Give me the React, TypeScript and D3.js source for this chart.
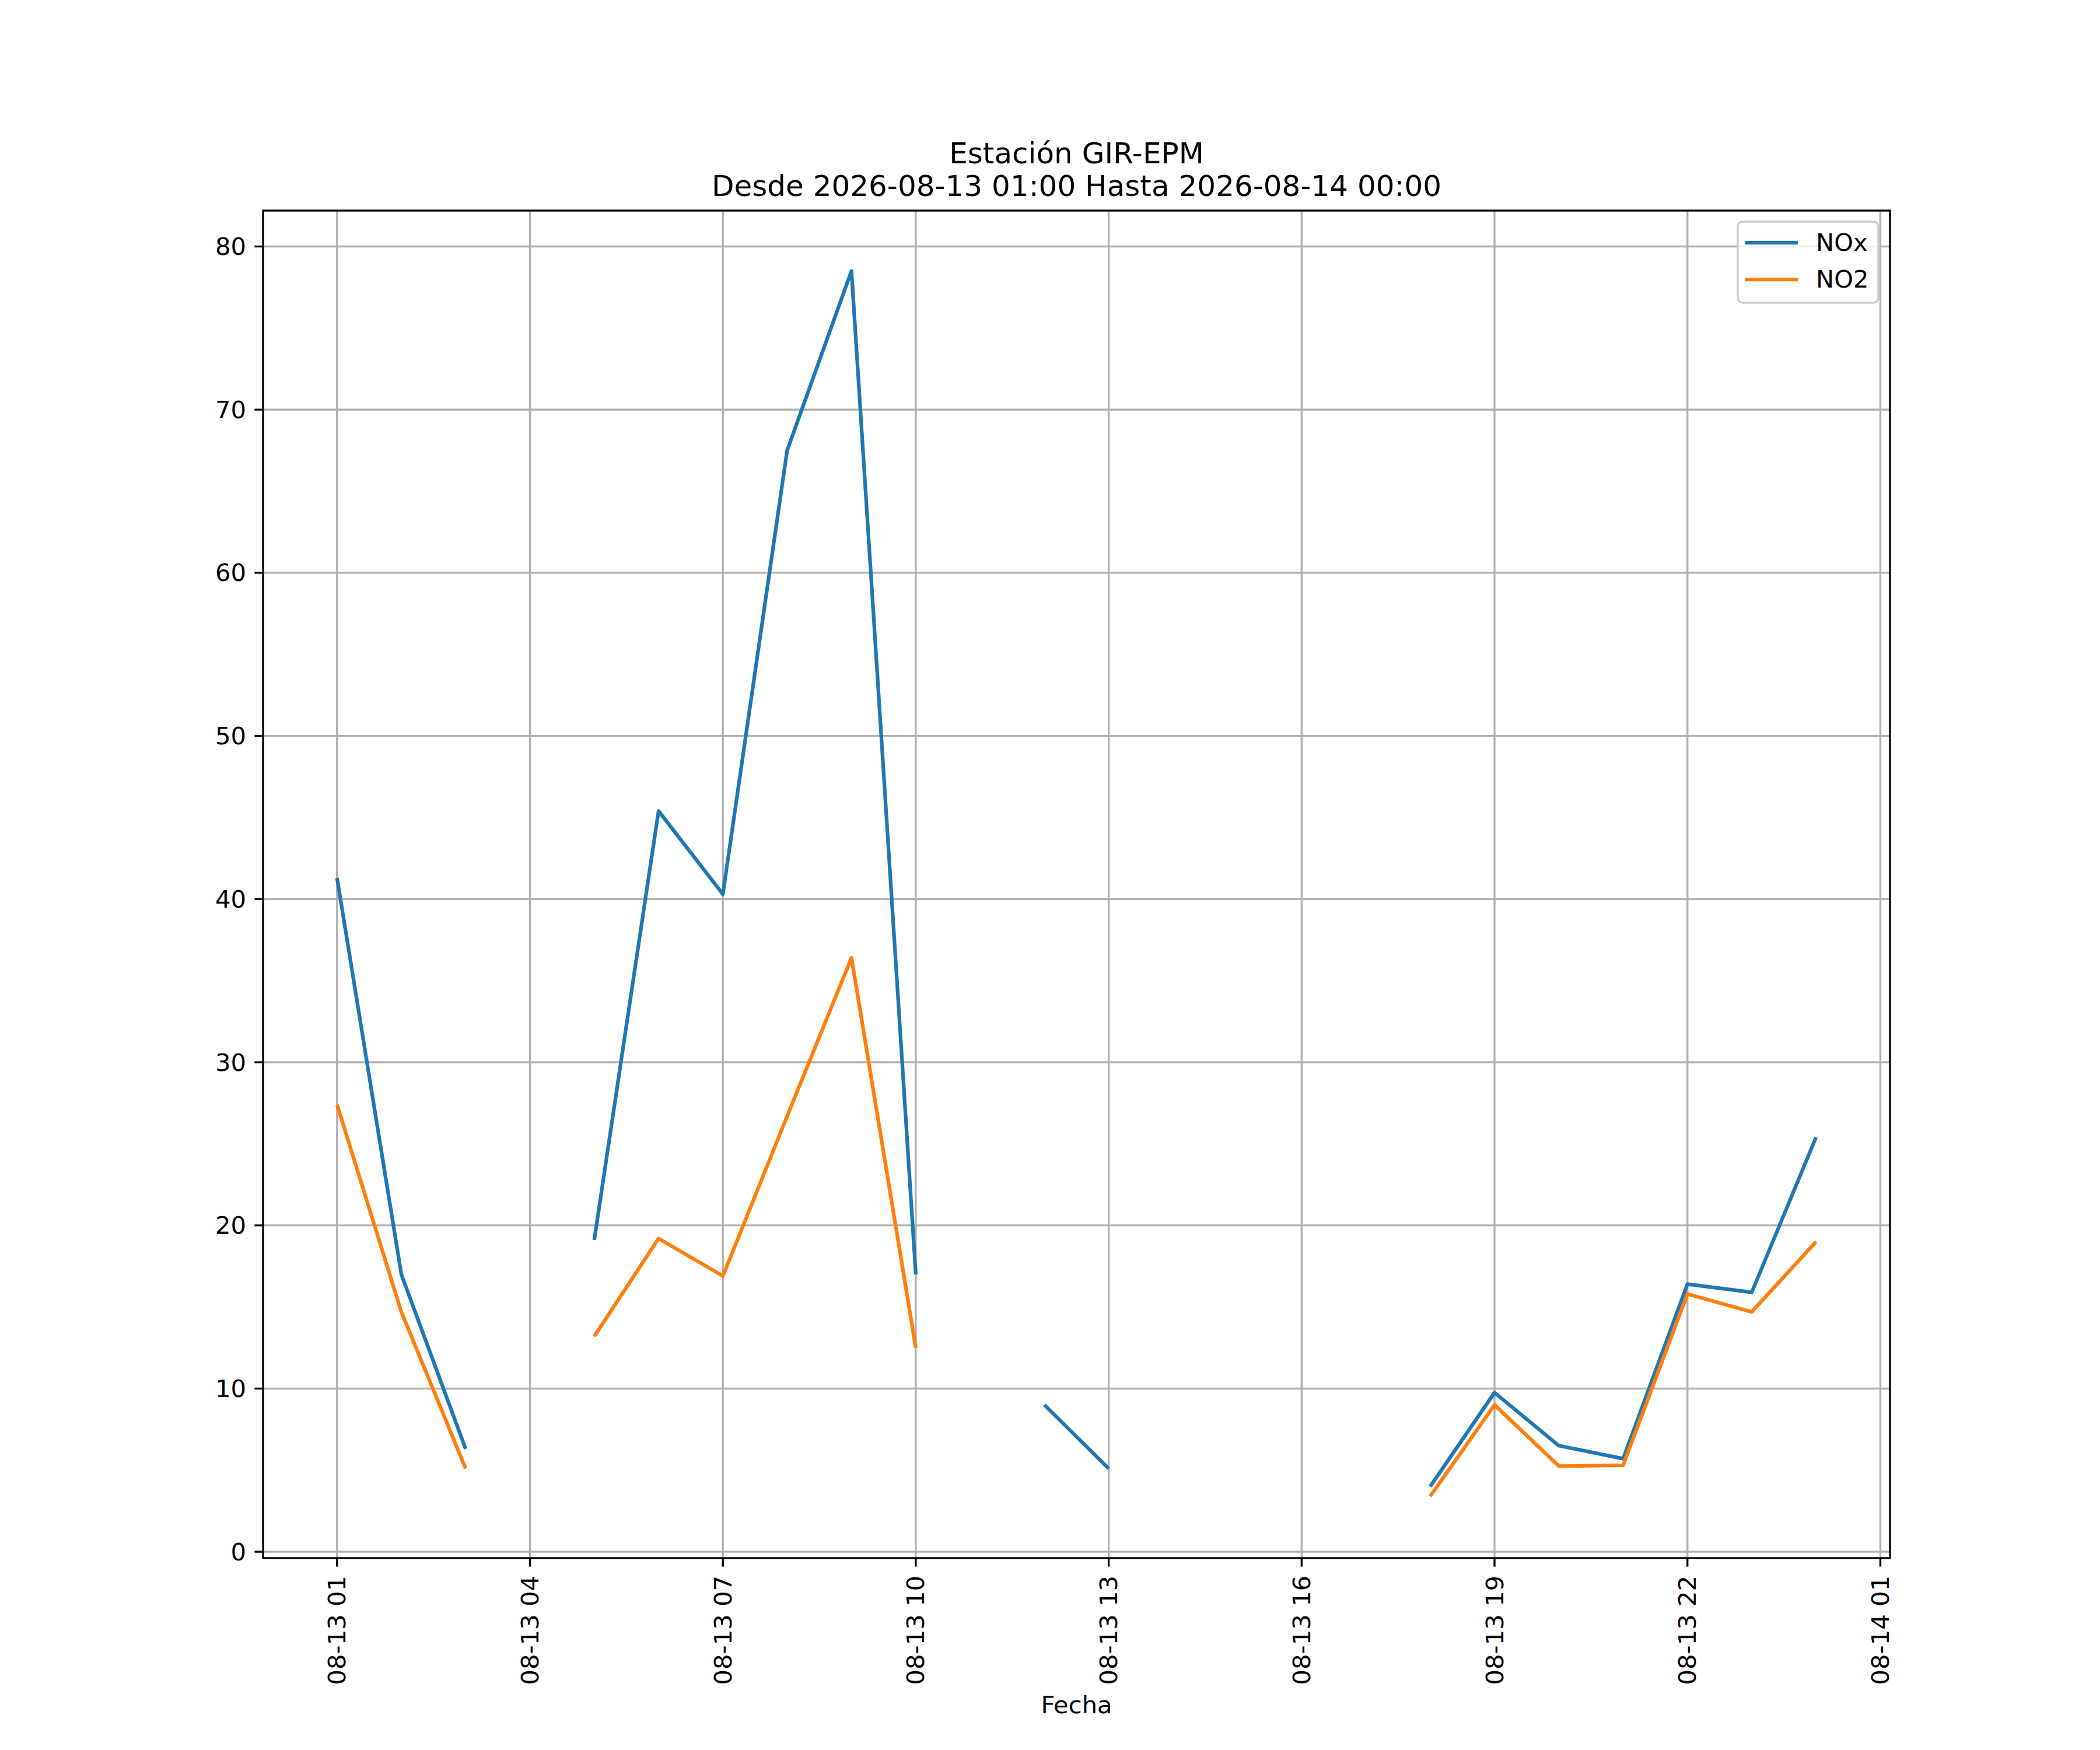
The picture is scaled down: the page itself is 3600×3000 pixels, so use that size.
import * as d3 from 'd3';

// hourly timestamps of the record
const times = [
  '2026-08-13 01:00', '2026-08-13 02:00', '2026-08-13 03:00', '2026-08-13 04:00',
  '2026-08-13 05:00', '2026-08-13 06:00', '2026-08-13 07:00', '2026-08-13 08:00',
  '2026-08-13 09:00', '2026-08-13 10:00', '2026-08-13 11:00', '2026-08-13 12:00',
  '2026-08-13 13:00', '2026-08-13 14:00', '2026-08-13 15:00', '2026-08-13 16:00',
  '2026-08-13 17:00', '2026-08-13 18:00', '2026-08-13 19:00', '2026-08-13 20:00',
  '2026-08-13 21:00', '2026-08-13 22:00', '2026-08-13 23:00', '2026-08-14 00:00',
];

const noxValues: (number | null)[] = [
  41.3, 17.0, 6.3, null, 19.1, 45.4, 40.3, 67.5, 78.5, 17.0, null, 9.0,
  5.1, null, null, null, null, 4.0, 9.75, 6.5, 5.7, 16.4, 15.9, 25.4,
];

const no2Values: (number | null)[] = [
  27.4, 14.7, 5.1, null, 13.2, 19.2, 16.9, 26.7, 36.4, 12.5, null, null,
  null, null, null, null, null, 3.4, 9.0, 5.25, 5.3, 15.8, 14.7, 19.0,
];

const yTicks = [0, 10, 20, 30, 40, 50, 60, 70, 80];
const xTickLabels = [
  '2026-08-13 01:00', '2026-08-13 04:00', '2026-08-13 07:00', '2026-08-13 10:00',
  '2026-08-13 13:00', '2026-08-13 16:00', '2026-08-13 19:00', '2026-08-13 22:00',
  '2026-08-14 01:00',
];

const seriesNames = ['NOx', 'NO2'];
const colors = ['#1f77b4', '#ff7f0e'];

const W = 3600;
const H = 3000;
const left = 451;
const right = 3240;
const top = 361;
const bottom = 2671;
const font = 'DejaVu Sans, sans-serif';
const fs = 41.7;
const HOUR = 3600 * 1000;

export default function App() {
  const parse = d3.utcParse('%Y-%m-%d %H:%M');
  const dates = times.map((t) => parse(t) as Date);
  const t0 = dates[0].getTime();
  const t1 = dates[dates.length - 1].getTime();

  const x = d3
    .scaleUtc()
    .domain([new Date(t0 - 1.15 * HOUR), new Date(t1 + 1.15 * HOUR)])
    .range([left, right]);
  const y = d3.scaleLinear().domain([-0.39, 82.2]).range([bottom, top]);

  const fmt = d3.utcFormat('%m-%d %H');
  const xTicks = xTickLabels.map((t) => parse(t) as Date);

  const line = d3
    .line<[Date, number | null]>()
    .defined((d) => d[1] !== null)
    .x((d) => x(d[0]))
    .y((d) => y(d[1] as number));

  const series = [noxValues, no2Values].map((vals) =>
    dates.map((d, i) => [d, vals[i]] as [Date, number | null])
  );

  const cx = (left + right) / 2;

  return (
    <svg
      width={W}
      height={H}
      style={{ position: 'absolute', left: 0, top: 0, background: '#fff' }}
      fontFamily={font}
    >
      <rect x={0} y={0} width={W} height={H} fill="#fff" />

      {/* grid */}
      {xTicks.map((d, i) => (
        <line key={'gx' + i} x1={x(d)} x2={x(d)} y1={top} y2={bottom} stroke="#b0b0b0" strokeWidth={3.33} />
      ))}
      {yTicks.map((v) => (
        <line key={'gy' + v} x1={left} x2={right} y1={y(v)} y2={y(v)} stroke="#b0b0b0" strokeWidth={3.33} />
      ))}

      {/* series */}
      {series.map((s, i) => (
        <path
          key={'s' + i}
          d={line(s) || ''}
          fill="none"
          stroke={colors[i]}
          strokeWidth={6.25}
          strokeLinejoin="round"
          strokeLinecap="butt"
        />
      ))}

      {/* spines */}
      <rect x={left} y={top} width={right - left} height={bottom - top} fill="none" stroke="#000" strokeWidth={3.33} />

      {/* y axis */}
      {yTicks.map((v) => (
        <g key={'yt' + v}>
          <line x1={left - 14.6} x2={left} y1={y(v)} y2={y(v)} stroke="#000" strokeWidth={3.33} />
          <text x={left - 29} y={y(v)} textAnchor="end" dominantBaseline="central" fontSize={fs}>
            {v}
          </text>
        </g>
      ))}

      {/* x axis */}
      {xTicks.map((d, i) => (
        <g key={'xt' + i}>
          <line x1={x(d)} x2={x(d)} y1={bottom} y2={bottom + 14.6} stroke="#000" strokeWidth={3.33} />
          <text
            transform={`translate(${x(d)},${bottom + 30}) rotate(-90)`}
            textAnchor="end"
            dominantBaseline="central"
            fontSize={fs}
          >
            {fmt(d)}
          </text>
        </g>
      ))}

      <text x={cx} y={2937} textAnchor="middle" fontSize={fs}>
        Fecha
      </text>

      {/* title */}
      <text x={cx} y={280} textAnchor="middle" fontSize={50}>
        Estación GIR-EPM
      </text>
      <text x={cx} y={336} textAnchor="middle" fontSize={50}>
        Desde 2026-08-13 01:00 Hasta 2026-08-14 00:00
      </text>

      {/* legend */}
      <g>
        <rect x={2979} y={380} width={241} height={139} rx={8} fill="#fff" fillOpacity={0.8} stroke="#cccccc" strokeWidth={3.33} />
        {seriesNames.map((n, i) => (
          <g key={n}>
            <line x1={2992} x2={3082} y1={416 + i * 63} y2={416 + i * 63} stroke={colors[i]} strokeWidth={6.25} />
            <text x={3113} y={430 + i * 63} fontSize={fs}>
              {n}
            </text>
          </g>
        ))}
      </g>
    </svg>
  );
}
